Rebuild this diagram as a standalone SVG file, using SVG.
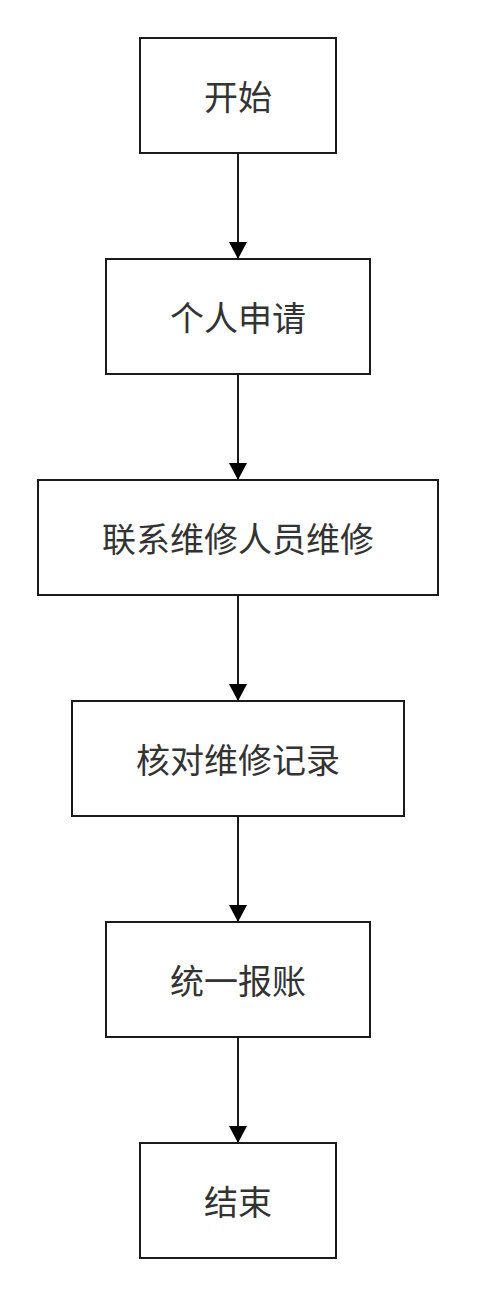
<svg xmlns="http://www.w3.org/2000/svg" width="477" height="1297" viewBox="0 0 477 1297">
<style>
.box{fill:#fff;stroke:#1a1a1a;stroke-width:2}
.lbl{font-family:"Noto Sans CJK SC","Noto Sans",sans-serif;font-size:34px;fill:#333;text-anchor:middle;dominant-baseline:central}
.edge{stroke:#1a1a1a;stroke-width:2;fill:none;marker-end:url(#ah)}
</style>
<defs>
<marker id="ah" markerUnits="userSpaceOnUse" markerWidth="18" markerHeight="18" refX="17" refY="9" orient="auto" viewBox="0 0 18 18">
<path d="M0,0 L17,9 L0,18 Z" fill="#000"/>
</marker>
</defs>
<rect width="477" height="1297" fill="#fff"/>
<g id="connectors">
<line class="edge" x1="238" y1="153" x2="238" y2="259"/>
<line class="edge" x1="238" y1="374" x2="238" y2="480"/>
<line class="edge" x1="238" y1="595" x2="238" y2="701"/>
<line class="edge" x1="238" y1="816" x2="238" y2="922"/>
<line class="edge" x1="238" y1="1037" x2="238" y2="1143"/>
</g>
<g id="n1"><rect class="box" x="140" y="38" width="196" height="115"/><text class="lbl" x="238" y="95">开始</text></g>
<g id="n2"><rect class="box" x="106" y="259" width="264" height="115"/><text class="lbl" x="238" y="316">个人申请</text></g>
<g id="n3"><rect class="box" x="38" y="480" width="400" height="115"/><text class="lbl" x="238" y="537">联系维修人员维修</text></g>
<g id="n4"><rect class="box" x="72" y="701" width="332" height="115"/><text class="lbl" x="238" y="758">核对维修记录</text></g>
<g id="n5"><rect class="box" x="106" y="922" width="264" height="115"/><text class="lbl" x="238" y="979">统一报账</text></g>
<g id="n6"><rect class="box" x="140" y="1143" width="196" height="115"/><text class="lbl" x="238" y="1200">结束</text></g>
</svg>
